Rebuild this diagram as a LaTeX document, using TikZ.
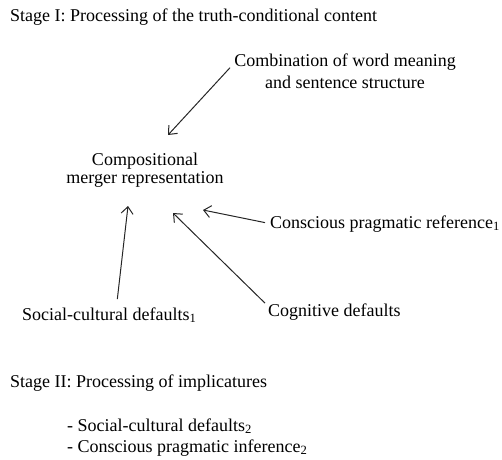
\documentclass[tikz,border=0pt]{standalone}
\usepackage{fontspec}
\setmainfont{Liberation Serif}
\usetikzlibrary{arrows.meta}

\tikzset{
	txt/.style={inner sep=0pt, font=\fontsize{18}{22}\selectfont},
	arr/.style={line width=1pt, color=black!85, -{Straight Barb[length=7pt, width=12pt]}}
}

\begin{document}
\begin{tikzpicture}[x=1pt, y=-1pt]
			\useasboundingbox (0, 0) rectangle (502, 459);

			\node[txt, anchor=base west] (stageone) at (10, 21) {Stage I: Processing of the truth-conditional content};
			\node[txt, align=center, anchor=north] (combo) at (345, 54) {Combination of word meaning\\and sentence structure};
			\node[txt, align=center, anchor=north, font=\fontsize{18}{18}\selectfont] (merger) at (145, 153) {Compositional\\merger representation};
			\node[txt, anchor=base west] (conscious) at (270, 228) {Conscious pragmatic reference\textsubscript{1}};
			\node[txt, anchor=base west] (cognitive) at (268, 316) {Cognitive defaults};
			\node[txt, anchor=base west] (social) at (22, 320) {Social-cultural defaults\textsubscript{1}};
			\node[txt, anchor=base west] (stagetwo) at (10, 387) {Stage II: Processing of implicatures};
			\node[txt, anchor=base west] (itemone) at (67, 431) {- Social-cultural defaults\textsubscript{2}};
			\node[txt, anchor=base west] (itemtwo) at (67, 452) {- Conscious pragmatic inference\textsubscript{2}};

			\coordinate (tipcombo) at (168, 135);
			\coordinate (tipconscious) at (203, 210);
			\coordinate (tipcognitive) at (173, 213);
			\coordinate (tipsocial) at (128, 206);

			\draw[arr] ([xshift=-4pt, yshift=4pt]combo.west) -- (tipcombo);
			\draw[arr] ([xshift=-5pt, yshift=1pt]conscious.west) -- (tipconscious);
			\draw[arr] ([xshift=-3pt]cognitive.north west) -- (tipcognitive);
			\draw[arr] ([xshift=8pt, yshift=8pt]social.north) -- (tipsocial);
		\end{tikzpicture}
\end{document}
